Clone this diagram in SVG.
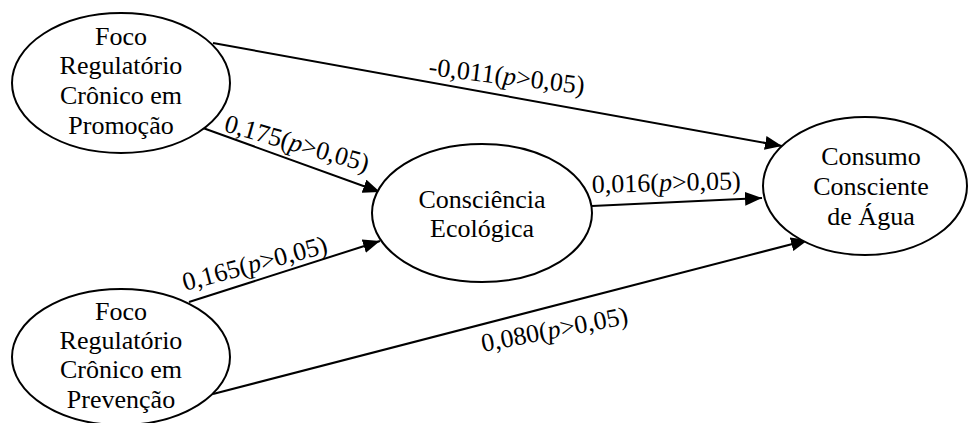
<svg xmlns="http://www.w3.org/2000/svg" width="968" height="423" viewBox="0 0 968 423">
<style>
.node ellipse{fill:#fff;stroke:#000;stroke-width:2}
text{font-family:'Liberation Serif','Tinos','Noto Serif','DejaVu Serif','FreeSerif','Times New Roman',Times,Georgia,serif;font-size:26px;fill:#000}
.c{text-anchor:middle}
.edge{stroke:#000;stroke-width:2;fill:none}
</style>
<defs>
<marker id="arr" markerUnits="userSpaceOnUse" markerWidth="18" markerHeight="14" refX="17" refY="7" orient="auto">
<path d="M0,0 L17,7 L0,14 Z" fill="#000"/>
</marker>
</defs>
<rect width="968" height="423" fill="#fff"/>
<g id="connectors">
<line class="edge" x1="213" y1="43" x2="782" y2="146" marker-end="url(#arr)"/>
<line class="edge" x1="203" y1="128" x2="380" y2="192" marker-end="url(#arr)"/>
<line class="edge" x1="189" y1="302" x2="380" y2="241" marker-end="url(#arr)"/>
<line class="edge" x1="592" y1="206" x2="762" y2="198" marker-end="url(#arr)"/>
<line class="edge" x1="213" y1="394" x2="808" y2="240" marker-end="url(#arr)"/>
<text transform="translate(428,75) rotate(7)">-0,011(<tspan font-style="italic">p</tspan>&gt;0,05)</text>
<text transform="translate(223,131) rotate(16)">0,175(<tspan font-style="italic">p</tspan>&gt;0,05)</text>
<text transform="translate(185,291) rotate(-15)">0,165(<tspan font-style="italic">p</tspan>&gt;0,05)</text>
<text transform="translate(592,193) rotate(-1.5)">0,016(<tspan font-style="italic">p</tspan>&gt;0,05)</text>
<text transform="translate(483,352) rotate(-11)">0,080(<tspan font-style="italic">p</tspan>&gt;0,05)</text>
</g>
<g id="promocao" class="node">
<ellipse cx="121" cy="83" rx="109" ry="70"/>
<text class="c" x="121" y="45">Foco</text>
<text class="c" x="121" y="74">Regulatório</text>
<text class="c" x="121" y="104">Crônico em</text>
<text class="c" x="121" y="134">Promoção</text>
</g>
<g id="prevencao" class="node">
<ellipse cx="121" cy="357" rx="109" ry="68"/>
<text class="c" x="121" y="320">Foco</text>
<text class="c" x="121" y="349">Regulatório</text>
<text class="c" x="121" y="378">Crônico em</text>
<text class="c" x="121" y="408">Prevenção</text>
</g>
<g id="consciencia" class="node">
<ellipse cx="482" cy="213" rx="110" ry="69"/>
<text class="c" x="482" y="208">Consciência</text>
<text class="c" x="482" y="237">Ecológica</text>
</g>
<g id="consumo" class="node">
<ellipse cx="865" cy="186" rx="102" ry="69"/>
<text class="c" x="871" y="165">Consumo</text>
<text class="c" x="871" y="195">Consciente</text>
<text class="c" x="871" y="225">de Água</text>
</g>
</svg>
